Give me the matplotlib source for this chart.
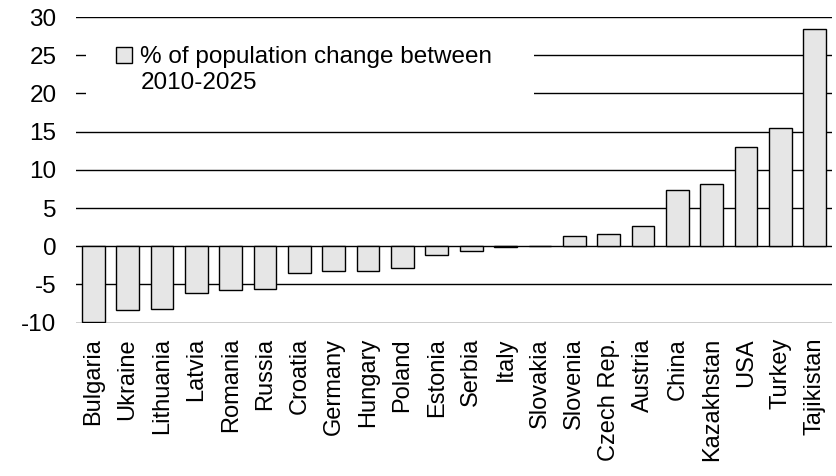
import matplotlib.pyplot as plt
from matplotlib.patches import Rectangle
import matplotlib.transforms as mtransforms

plt.rcParams['font.family'] = ['Liberation Sans', 'DejaVu Sans']

countries = ["Bulgaria", "Ukraine", "Lithuania", "Latvia", "Romania", "Russia",
             "Croatia", "Germany", "Hungary", "Poland", "Estonia", "Serbia",
             "Italy", "Slovakia", "Slovenia", "Czech Rep.", "Austria", "China",
             "Kazakhstan", "USA", "Turkey", "Tajikistan"]
pop_change = [-9.9, -8.3, -8.2, -6.1, -5.7, -5.6,
              -3.5, -3.3, -3.2, -2.8, -1.2, -0.6,
              -0.1, 0.1, 1.3, 1.6, 2.6, 7.4,
              8.2, 13.0, 15.5, 28.4]
yticks = [-10, -5, 0, 5, 10, 15, 20, 25, 30]
legend_line1 = "% of population change between"
legend_line2 = "2010-2025"

fig = plt.figure(figsize=(8.36, 4.76), dpi=100)
ax = fig.add_axes([76 / 836, 1 - 322.7 / 476, 756 / 836, (322.7 - 17) / 476])

x = range(len(countries))
ax.bar(x, pop_change, width=0.66, color="#e6e6e6", edgecolor="black",
       linewidth=1.0, zorder=3, label=legend_line1)

ax.set_xlim(-0.5, len(countries) - 0.5)
ax.set_ylim(-10, 30)
ax.set_yticks(yticks)
ax.set_yticklabels([str(v) for v in yticks])
ax.set_xticks(list(x))
ax.set_xticklabels(countries, rotation=90)
ax.tick_params(axis="both", length=0, labelsize=17.5)
ax.tick_params(axis="x", labelsize=17, pad=11)
ax.tick_params(axis="y", pad=14)
ax.yaxis.grid(True, color="black", linewidth=1.0)
ax.set_axisbelow(True)
for s in ax.spines.values():
    s.set_visible(False)

# white box behind the legend, hiding part of the grid
trans = mtransforms.blended_transform_factory(ax.transAxes, ax.transData)
ax.add_patch(Rectangle((0.0132, 17.5), 0.5928, 11.0, transform=trans,
                       facecolor="white", edgecolor="none", zorder=2.5))

leg = ax.legend(loc="upper left", bbox_to_anchor=(0.024, 0.976), frameon=False,
                fontsize=17.5, handlelength=0.64, handleheight=0.64,
                handletextpad=0.36, borderpad=0.4)
# second line of the label, under the first one (drawn after the legend)
ax.annotate(legend_line2, xy=(0, 0), xycoords=leg.get_texts()[0],
            xytext=(0, -3), textcoords="offset points",
            ha="left", va="top", fontsize=17.5, zorder=6)

fig.canvas.draw()
fig.savefig("out.png", dpi=100)
